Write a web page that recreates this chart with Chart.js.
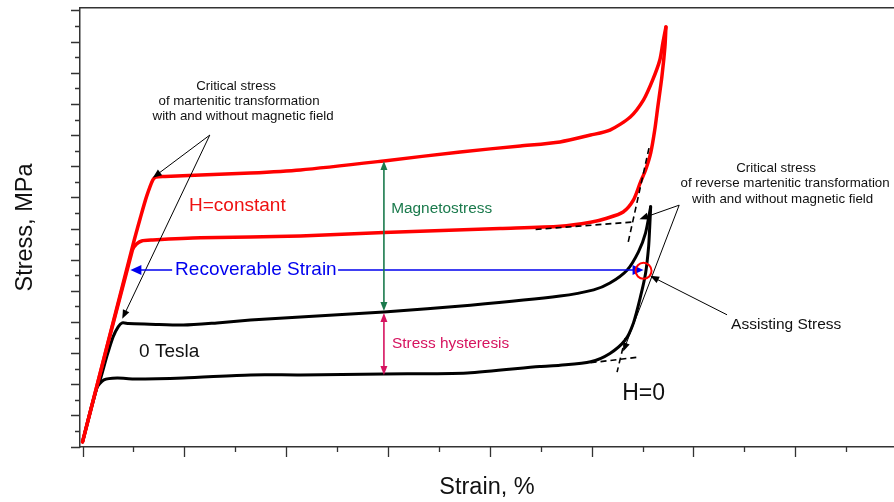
<!DOCTYPE html>
<html>
<head>
<meta charset="utf-8">
<script src="https://cdn.jsdelivr.net/npm/chart.js@4/dist/chart.umd.min.js"></script>
<style>
  html, body { margin: 0; padding: 0; background: #fff; }
  #wrap { width: 894px; height: 502px; }
</style>
</head>
<body>
<div id="wrap"><canvas id="c" width="894" height="502"></canvas></div>
<script>
// Stress–strain loops, strain in %, stress in MPa.
// Loop measured with a constant magnetic field (red).
const redLoadStrain = [0.00, 0.49, 0.57, 0.63, 0.69, 0.72, 0.81, 1.16, 1.65, 2.14, 2.96, 3.71, 4.30, 4.69, 4.99, 5.18, 5.38, 5.51, 5.60, 5.67, 5.70, 5.73];
const redLoadStress = [1.5, 64.1, 73.7, 80.4, 85.6, 86.5, 86.7, 87.2, 87.8, 88.8, 91.7, 94.6, 96.5, 97.8, 100.0, 101.6, 105.8, 111.3, 117.7, 124.1, 129.6, 134.7];
const redUnloadStrain = [5.73, 5.72, 5.69, 5.65, 5.62, 5.58, 5.53, 5.48, 5.41, 5.31, 5.15, 4.99, 4.69, 4.10, 2.96, 2.14, 1.16, 0.69, 0.58, 0.53, 0.49, 0.00];
const redUnloadStress = [134.7, 128.3, 118.7, 109.0, 101.6, 94.2, 88.8, 84.9, 79.1, 75.3, 73.3, 72.0, 70.7, 70.0, 68.7, 67.6, 67.0, 66.3, 66.0, 65.0, 63.1, 1.5];

// Loop measured without field, 0 Tesla (black).
const zeroLoadStrain = [0.00, 0.14, 0.17, 0.24, 0.30, 0.35, 0.39, 0.45, 0.66, 0.99, 1.32, 1.65, 2.14, 2.96, 3.81, 4.69, 5.02, 5.18, 5.35, 5.46, 5.53, 5.58];
const zeroLoadStress = [1.5, 18.8, 21.0, 29.1, 35.2, 38.4, 39.7, 39.5, 39.3, 39.0, 39.7, 40.6, 41.6, 43.2, 45.4, 48.3, 50.3, 52.5, 56.7, 62.5, 68.6, 77.0];
const zeroUnloadStrain = [5.58, 5.57, 5.56, 5.53, 5.48, 5.41, 5.33, 5.18, 4.99, 4.69, 4.49, 3.78, 2.96, 2.14, 1.65, 0.99, 0.50, 0.34, 0.21, 0.14, 0.00];
const zeroUnloadStress = [77.0, 70.0, 64.2, 55.6, 48.1, 39.6, 34.2, 29.9, 27.2, 26.1, 25.7, 23.6, 23.3, 23.0, 23.0, 22.0, 21.7, 22.0, 21.4, 18.8, 1.5];

// Tangent construction lines at the onset of the reverse transformation.
const tangentStrain = [[4.45, 5.41], [5.36, 5.57], [4.99, 5.46], [5.33, 5.25]];
const tangentStress = [[69.7, 72.1], [65.7, 96.8], [26.9, 28.7], [34.8, 23.9]];

const FONT = '"Liberation Sans", Arial, Helvetica, sans-serif';

// Callouts, placed in strain/stress coordinates.
const notes = {
  arrows: [
    { from: [1.25, 100.0], to: [0.69, 86.3], color: '#000', width: 1, head: 9, half: 3.5 },
    { from: [1.25, 100.0], to: [0.39, 41.0], color: '#000', width: 1, head: 9, half: 3.5 },
    { from: [5.86, 77.5], to: [5.47, 73.0], color: '#000', width: 1, head: 9, half: 3.5 },
    { from: [5.86, 77.5], to: [5.31, 30.5], color: '#000', width: 1, head: 9, half: 3.5 },
    { from: [6.33, 42.3], to: [5.575, 54.8], color: '#000', width: 1, head: 9, half: 3.5 },
    { from: [0.88, 56.7], to: [0.47, 56.7], color: '#0000ee', width: 1.6, head: 11, half: 5 },
    { from: [2.51, 56.7], to: [5.51, 56.7], color: '#0000ee', width: 1.6, head: 11, half: 5 }
  ],
  spans: [
    { x: 2.96, y0: 91.7, y1: 43.5, color: '#1a7a4c' },
    { x: 2.96, y0: 42.9, y1: 23.0, color: '#d6135f' }
  ],
  rings: [ { x: 5.51, y: 56.4, r: 8, color: '#ff0000', width: 2 } ],
  texts: [
    { t: 'Critical stress', x: 1.508, y: 115.5, size: 13.3, align: 'center', color: '#111' },
    { t: 'of martenitic transformation', x: 1.537, y: 110.9, size: 13.3, align: 'center', color: '#111' },
    { t: 'with and without magnetic field', x: 1.577, y: 105.9, size: 13.3, align: 'center', color: '#111' },
    { t: 'Critical stress', x: 6.812, y: 89.3, size: 13.3, align: 'center', color: '#111' },
    { t: 'of reverse martenitic transformation', x: 6.900, y: 84.5, size: 13.3, align: 'center', color: '#111' },
    { t: 'with and without magnetic field', x: 6.876, y: 79.4, size: 13.3, align: 'center', color: '#111' },
    { t: 'H=constant', x: 1.046, y: 77.2, size: 19, align: 'left', color: '#ee1111' },
    { t: '0 Tesla', x: 0.555, y: 30.3, size: 19, align: 'left', color: '#111' },
    { t: 'Recoverable Strain', x: 0.909, y: 56.7, size: 19, align: 'left', color: '#0000ee' },
    { t: 'Magnetostress', x: 3.031, y: 76.3, size: 15.4, align: 'left', color: '#1a7a4c' },
    { t: 'Stress hysteresis', x: 3.040, y: 32.9, size: 15.4, align: 'left', color: '#d6135f' },
    { t: 'Assisting Stress', x: 6.370, y: 39.0, size: 15.5, align: 'left', color: '#111' },
    { t: 'H=0', x: 5.300, y: 17.1, size: 23, align: 'left', color: '#111' }
  ]
};

const pts = (xs, ys) => xs.map((x, i) => ({ x, y: ys[i] }));

function head(ctx, x0, y0, x1, y1, len, half, color) {
  const a = Math.atan2(y1 - y0, x1 - x0);
  const c = Math.cos(a), s = Math.sin(a);
  ctx.fillStyle = color;
  ctx.beginPath();
  ctx.moveTo(x1, y1);
  ctx.lineTo(x1 - len * c - half * s, y1 - len * s + half * c);
  ctx.lineTo(x1 - len * c + half * s, y1 - len * s - half * c);
  ctx.closePath();
  ctx.fill();
}

const calloutPlugin = {
  id: 'callouts',
  afterDatasetsDraw(chart) {
    const { ctx } = chart;
    const xs = chart.scales.x, ys = chart.scales.y;
    const X = v => xs.getPixelForValue(v), Y = v => ys.getPixelForValue(v);
    ctx.save();
    notes.arrows.forEach(a => {
      const x0 = X(a.from[0]), y0 = Y(a.from[1]), x1 = X(a.to[0]), y1 = Y(a.to[1]);
      const ang = Math.atan2(y1 - y0, x1 - x0);
      ctx.strokeStyle = a.color; ctx.lineWidth = a.width;
      ctx.beginPath();
      ctx.moveTo(x0, y0);
      ctx.lineTo(x1 - Math.cos(ang) * a.head * 0.8, y1 - Math.sin(ang) * a.head * 0.8);
      ctx.stroke();
      head(ctx, x0, y0, x1, y1, a.head, a.half, a.color);
    });
    notes.spans.forEach(sp => {
      const x = X(sp.x), ya = Y(sp.y0), yb = Y(sp.y1);
      ctx.strokeStyle = sp.color; ctx.lineWidth = 1.6;
      ctx.beginPath(); ctx.moveTo(x, ya + 6); ctx.lineTo(x, yb - 6); ctx.stroke();
      head(ctx, x, yb, x, ya, 9, 3.5, sp.color);
      head(ctx, x, ya, x, yb, 9, 3.5, sp.color);
    });
    notes.rings.forEach(r => {
      ctx.strokeStyle = r.color; ctx.lineWidth = r.width;
      ctx.beginPath(); ctx.arc(X(r.x), Y(r.y), r.r, 0, Math.PI * 2); ctx.stroke();
    });
    ctx.textBaseline = 'middle';
    notes.texts.forEach(t => {
      ctx.font = t.size + 'px ' + FONT;
      ctx.fillStyle = t.color;
      ctx.textAlign = t.align;
      ctx.fillText(t.t, X(t.x), Y(t.y));
    });
    ctx.restore();
  }
};

// Outward tick marks: long at whole units, short halfway between.
const tickPlugin = {
  id: 'outerTicks',
  afterDraw(chart) {
    const { ctx, chartArea } = chart;
    const xs = chart.scales.x, ys = chart.scales.y;
    const isMult = (v, m) => Math.abs(v / m - Math.round(v / m)) < 1e-6;
    ctx.save();
    ctx.strokeStyle = '#333';
    ctx.lineWidth = 1.3;
    ctx.beginPath();
    xs.ticks.forEach(t => {
      const px = Math.round(xs.getPixelForValue(t.value)) + 0.5;
      const len = isMult(t.value, 1) ? 10 : 5;
      ctx.moveTo(px, chartArea.bottom);
      ctx.lineTo(px, chartArea.bottom + len);
    });
    ys.ticks.forEach(t => {
      const py = Math.round(ys.getPixelForValue(t.value)) + 0.5;
      const len = isMult(t.value, 10) ? 9 : 5;
      ctx.moveTo(chartArea.left, py);
      ctx.lineTo(chartArea.left - len, py);
    });
    ctx.stroke();
    ctx.restore();
  }
};

const dashed = (i) => ({
  data: pts(tangentStrain[i], tangentStress[i]),
  borderColor: '#000', borderWidth: 1.6, borderDash: [6, 4], tension: 0, order: 0,
  xAxisID: 'x', yAxisID: 'y'
});
const curve = (xs, ys, color, w, order) => ({
  data: pts(xs, ys), borderColor: color, borderWidth: w, tension: 0.25, order,
  borderJoinStyle: 'round', borderCapStyle: 'round', xAxisID: 'x', yAxisID: 'y'
});

new Chart(document.getElementById('c'), {
  type: 'line',
  data: {
    datasets: [
      dashed(0), dashed(1), dashed(2), dashed(3),
      curve(redLoadStrain, redLoadStress, '#ff0000', 3.5, 1),
      curve(redUnloadStrain, redUnloadStress, '#ff0000', 3.5, 1),
      curve(zeroLoadStrain, zeroLoadStress, '#000000', 3, 2),
      curve(zeroUnloadStrain, zeroUnloadStress, '#000000', 3, 2)
    ]
  },
  options: {
    responsive: false,
    animation: false,
    devicePixelRatio: 1,
    layout: { padding: 0 },
    elements: { point: { radius: 0, hoverRadius: 0 } },
    plugins: { legend: { display: false }, tooltip: { enabled: false } },
    scales: {
      x: {
        type: 'linear', position: 'bottom', min: -0.025, max: 7.97,
        ticks: { display: false, stepSize: 0.5, includeBounds: false, maxTicksLimit: 100 },
        grid: { display: false },
        border: { display: true, color: '#333', width: 1.5 },
        title: { display: true, text: 'Strain, %', color: '#111', font: { family: FONT, size: 23.5 }, padding: { top: 0, bottom: 0 } },
        afterFit(s) { s.height = 55; }
      },
      xTop: {
        type: 'linear', position: 'top', min: -0.025, max: 7.97,
        ticks: { display: false }, grid: { display: false },
        border: { display: true, color: '#333', width: 1.5 },
        afterFit(s) { s.height = 8; }
      },
      y: {
        type: 'linear', position: 'left', min: -0.15, max: 140.8,
        ticks: { display: false, stepSize: 5, includeBounds: false, maxTicksLimit: 100 },
        grid: { display: false },
        border: { display: true, color: '#333', width: 1.5 },
        title: { display: true, text: 'Stress, MPa', color: '#111', font: { family: FONT, size: 23.5 }, padding: { top: 11.5, bottom: 0 } },
        afterFit(s) { s.width = 80; }
      }
    }
  },
  plugins: [tickPlugin, calloutPlugin]
});
</script>
</body>
</html>
